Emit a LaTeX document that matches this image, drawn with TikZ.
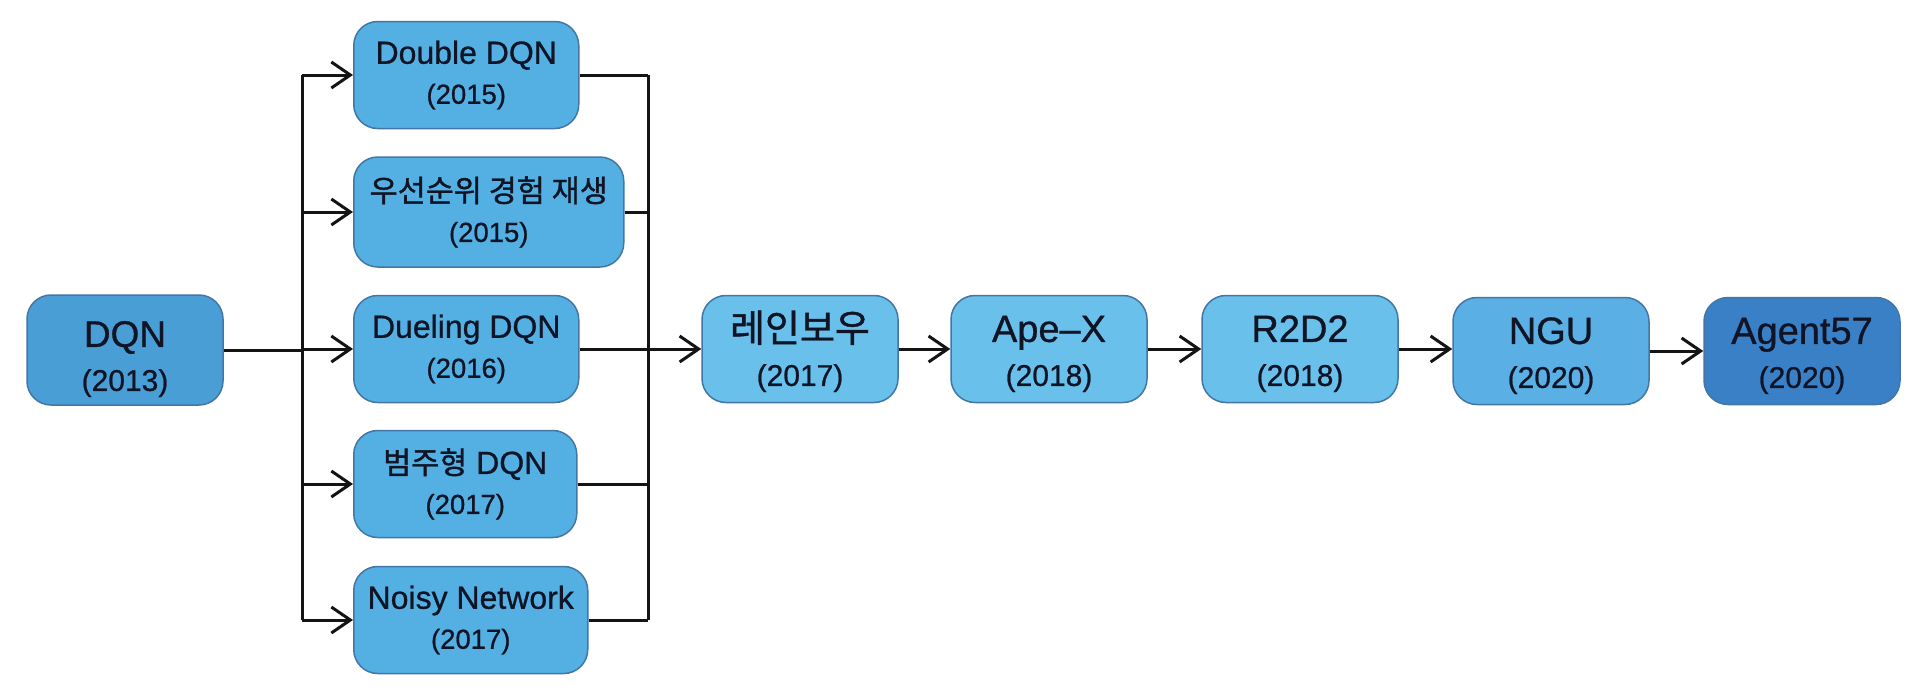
\documentclass[tikz,border=0pt]{standalone}
\usepackage{fontspec}
\setmainfont{Liberation Sans}[FakeBold=0.8]
\newfontfamily\kr{Noto Sans CJK KR}[FakeBold=1.2]
\usetikzlibrary{arrows.meta,positioning}
\definecolor{dqncol}{RGB}{74,158,214}
\definecolor{sidecol}{RGB}{84,176,227}
\definecolor{maincol}{RGB}{104,192,235}
\definecolor{ngucol}{RGB}{90,176,228}
\definecolor{agentcol}{RGB}{58,128,198}
\definecolor{edgecol}{RGB}{68,118,165}
\definecolor{txtcol}{RGB}{16,20,36}
\tikzset{
  box/.style={draw=edgecol, line width=1.5pt, rounded corners=24pt, align=center,
    text=txtcol, inner sep=0pt, minimum height=107pt},
  mainbox/.style={box, fill=maincol, minimum width=196pt, font=\fontsize{38}{44}\selectfont},
  sidebox/.style={box, fill=sidecol, anchor=west, font=\fontsize{32}{40}\selectfont},
  conn/.style={line width=3pt, draw=black!92},
  arr/.style={conn, -{Straight Barb[length=19pt,width=26pt,line width=3pt]}},
}
\newcommand{\yrm}[1]{{\fontsize{30}{44}\selectfont #1}}
\newcommand{\yrs}[1]{{\fontsize{27.5}{40}\selectfont #1}}
\newcommand{\tst}{\rule{0pt}{36pt}}
\newcommand{\tsd}{\rule{0pt}{44pt}}
\begin{document}
\begin{tikzpicture}[x=1pt,y=-1pt]
\path[use as bounding box, fill=white] (0,0) rectangle (1912,689);
% main chain
\node[mainbox, fill=dqncol, minimum height=110pt, font=\fontsize{37}{44}\selectfont] (dqn) at (125,350) {\tsd DQN\\\yrm{(2013)}};
\node[mainbox] (rainbow) at (800,349) {\tst{\kr 레인보우}\\\yrm{(2017)}};
\node[mainbox] (apex) at (1049,349) {\tst Ape–X\\\yrm{(2018)}};
\node[mainbox] (r2d2) at (1300,349) {\tst R2D2\\\yrm{(2018)}};
\node[mainbox, fill=ngucol] (ngu) at (1551,351) {\tst NGU\\\yrm{(2020)}};
\node[mainbox, fill=agentcol] (agent) at (1802,351) {\tst Agent57\\\yrm{(2020)}};
% side branches
\node[sidebox, minimum width=225pt] (dbl) at (353,75) {Double DQN\\\yrs{(2015)}};
\node[sidebox, minimum width=270pt, minimum height=110pt] (per) at (353,212) {{\kr\fontsize{30.5}{40}\selectfont 우선순위 경험 재생}\\\yrs{(2015)}};
\node[sidebox, minimum width=225pt] (duel) at (353,349) {Dueling DQN\\\yrs{(2016)}};
\node[sidebox, minimum width=223pt] (cat) at (353,484) {{\kr\fontsize{30.5}{40}\selectfont 범주형} DQN\\\yrs{(2017)}};
\node[sidebox, minimum width=234pt] (noisy) at (353,620) {Noisy Network\\\yrs{(2017)}};
% buses
\coordinate (busL) at (302,0);
\coordinate (busR) at (648,0);
\draw[conn] (busL |- dbl.west) -- (busL |- noisy.west);
\draw[conn] (busR |- dbl.east) -- (busR |- noisy.east);
\draw[conn] (dqn.east) -- (busL |- dqn.east);
\foreach \n in {dbl,per,duel,cat,noisy}{
  \draw[arr] (busL |- \n.west) -- (\n.west);
  \draw[conn] (\n.east) -- (busR |- \n.east);
}
\draw[arr] (busR |- rainbow.west) -- (rainbow.west);
\draw[arr] (rainbow.east) -- (apex.west);
\draw[arr] (apex.east) -- (r2d2.west);
\draw[arr] (r2d2.east) -- (r2d2.east -| ngu.west);
\draw[arr] (ngu.east) -- (agent.west);
\end{tikzpicture}
\end{document}
